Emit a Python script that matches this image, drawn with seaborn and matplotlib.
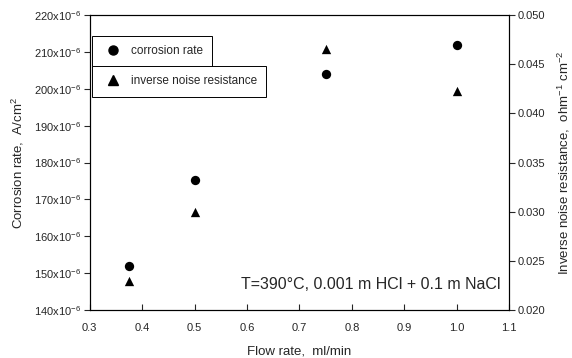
import matplotlib
matplotlib.use("Agg")
import matplotlib.pyplot as plt
import seaborn as sns
import pandas as pd
from matplotlib.lines import Line2D

flow = [0.375, 0.5, 0.75, 1.0]
corrosion = [152e-6, 175.3e-6, 204e-6, 212e-6]
inv_noise = [0.0230, 0.0300, 0.0465, 0.0423]

x_ticks = [0.3, 0.4, 0.5, 0.6, 0.7, 0.8, 0.9, 1.0, 1.1]
left_ticks = [140, 150, 160, 170, 180, 190, 200, 210, 220]
right_ticks = [0.020, 0.025, 0.030, 0.035, 0.040, 0.045, 0.050]

sns.set_style("ticks")
plt.rcParams['font.family'] = ['Liberation Sans', 'DejaVu Sans']
plt.rcParams['mathtext.fontset'] = 'custom'
plt.rcParams['mathtext.rm'] = 'Liberation Sans'
plt.rcParams['mathtext.it'] = 'Liberation Sans:italic'
plt.rcParams['mathtext.bf'] = 'Liberation Sans:bold'

df = pd.DataFrame({"flow": flow, "corrosion": corrosion, "inv": inv_noise})

fig = plt.figure(figsize=(5.72, 3.58), dpi=100)
ax = fig.add_axes([0.157, 0.134, 0.733, 0.824])
ax2 = ax.twinx()

sns.scatterplot(data=df, x="flow", y="corrosion", ax=ax, marker="o", s=45,
                color="black", edgecolor="black", linewidth=0, legend=False)
sns.scatterplot(data=df, x="flow", y="inv", ax=ax2, marker="^", s=45,
                color="black", edgecolor="black", linewidth=0, legend=False)

ax.set_xlim(0.3, 1.1)
ax.set_ylim(140e-6, 220e-6)
ax2.set_ylim(0.020, 0.050)

ax.set_xticks(x_ticks)
ax.set_xticklabels([f"{v:.1f}" for v in x_ticks], fontsize=8)
ax.set_yticks([v * 1e-6 for v in left_ticks])
ax.set_yticklabels([f"{v}x10$^{{-6}}$" for v in left_ticks], fontsize=8)
ax2.set_yticks(right_ticks)
ax2.set_yticklabels([f"{v:.3f}" for v in right_ticks], fontsize=8)

ax.tick_params(axis='x', direction='in', length=4, width=0.8, pad=9)
ax.tick_params(axis='y', direction='out', length=4, width=0.8, pad=2)
ax2.tick_params(axis='y', direction='out', length=4, width=0.8, pad=2)

for a in (ax, ax2):
    for sp in a.spines.values():
        sp.set_visible(True)
        sp.set_linewidth(0.8)
        sp.set_color("black")

ax.set_xlabel("Flow rate,  ml/min", fontsize=9.5, labelpad=9)
ax.set_ylabel("Corrosion rate,  A/cm$^2$", fontsize=9.5, labelpad=6)
ax2.set_ylabel("Inverse noise resistance,  ohm$^{-1}$ cm$^{-2}$", fontsize=9.5, labelpad=8)

ax.text(0.98, 0.085, "T=390°C, 0.001 m HCl + 0.1 m NaCl", transform=ax.transAxes,
        ha="right", va="center", fontsize=11.5)

h1 = Line2D([], [], marker="o", color="black", linestyle="none", markersize=6.5)
h2 = Line2D([], [], marker="^", color="black", linestyle="none", markersize=6.5)
leg1 = ax.legend([h1], ["corrosion rate"], loc="upper left",
                 bbox_to_anchor=(0.005, 0.93), fontsize=8.5, frameon=True,
                 fancybox=False, edgecolor="black", framealpha=1,
                 borderpad=0.8, handletextpad=0.5, borderaxespad=0)
leg1.get_frame().set_linewidth(0.7)
leg2 = ax2.legend([h2], ["inverse noise resistance"], loc="upper left",
                  bbox_to_anchor=(0.005, 0.828), fontsize=8.5, frameon=True,
                  fancybox=False, edgecolor="black", framealpha=1,
                  borderpad=0.8, handletextpad=0.5, borderaxespad=0)
leg2.get_frame().set_linewidth(0.7)

fig.savefig("out.png", dpi=100)
